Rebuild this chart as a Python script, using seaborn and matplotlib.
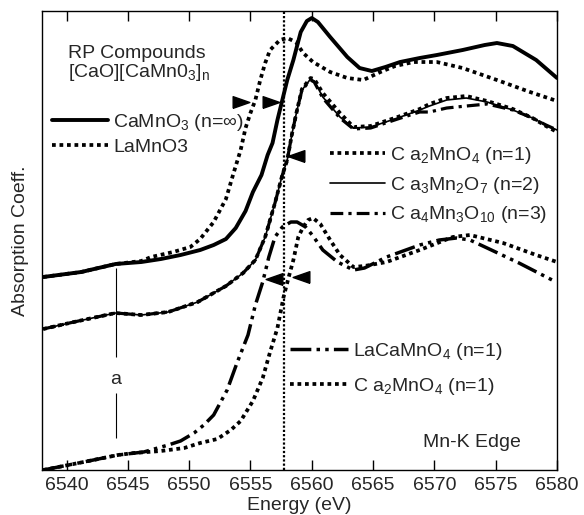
import matplotlib
matplotlib.use("Agg")
import matplotlib.pyplot as plt
import seaborn as sns
from matplotlib.lines import Line2D

# ---------------- data (energy in eV, absorption in arb. units, offset curves) -------------
e_camno3 = [6538.1, 6541.2, 6544.0, 6546.1, 6547.7, 6549.3, 6550.9, 6552.0, 6553.0, 6553.8,
            6554.6, 6555.2, 6555.9, 6556.4, 6556.8, 6557.2, 6557.6, 6558.0, 6558.5, 6559.1,
            6559.6, 6560.0, 6560.5, 6561.5, 6562.9, 6563.9, 6564.9, 6566.0, 6567.2, 6568.8,
            6570.2, 6572.3, 6574.1, 6575.1, 6576.4, 6578.3, 6580.0]
a_camno3 = [193, 198, 206, 208, 211, 215, 220, 225, 231, 242,
            259, 278, 295, 315, 327, 350, 370, 390, 410, 438,
            449, 452, 448, 433, 413, 402, 399, 403, 408, 412,
            415, 420, 425, 427, 424, 410, 392]

e_lamno3 = [6538.1, 6541.2, 6544.0, 6546.1, 6546.9, 6548.7, 6550.1, 6550.9, 6552.0, 6553.0,
            6553.6, 6554.2, 6554.6, 6555.0, 6555.4, 6555.8, 6556.2, 6556.6, 6557.4, 6558.0,
            6558.7, 6559.3, 6560.1, 6561.5, 6562.9, 6564.2, 6565.6, 6566.8, 6568.3, 6570.2,
            6572.3, 6575.1, 6577.8, 6580.0]
a_lamno3 = [193, 198, 206, 209, 213, 218, 223, 231, 248, 271,
            296, 320, 342, 357, 370, 390, 407, 420, 430, 432,
            428, 417, 408, 398, 392, 390, 398, 404, 408, 408,
            402, 390, 378, 369]

e_mid = [6538.1, 6540.6, 6544.0, 6546.1, 6548.3, 6550.7, 6553.0, 6554.4, 6555.4, 6556.2,
         6557.0, 6557.6, 6558.0, 6558.4, 6558.8, 6559.2, 6559.9, 6560.2, 6560.9, 6562.3,
         6563.4, 6564.8, 6567.0, 6568.8, 6569.6, 6571.0, 6572.6, 6574.3, 6576.4, 6578.0,
         6579.1, 6580.0]
a_ca3mn2o7 = [141, 148, 157, 155, 158, 168, 184, 197, 210, 233,
              267, 295, 310, 337, 360, 380, 391, 389, 373, 353,
              342, 343, 352, 360, 364, 370, 372, 368, 360, 352,
              345, 340]
a_ca2mno4_mid = [141, 148, 157, 155, 158, 168, 184, 197, 210, 233,
                 267, 295, 310, 337, 360, 381, 392, 391, 377, 357,
                 343, 344, 353, 361, 366, 372, 374, 369, 361, 352,
                 344, 338]
a_ca4mn3o10 = [141, 148, 157, 155, 158, 168, 184, 197, 210, 233,
               267, 295, 310, 337, 360, 380, 390, 388, 372, 352,
               341, 342, 351, 358, 358, 362, 364, 366, 360, 352,
               345, 340]

e_lacamno4 = [6538.1, 6541.4, 6544.2, 6546.3, 6548.3, 6549.3, 6550.4, 6551.2, 6552.0, 6553.1,
              6553.9, 6554.8, 6555.4, 6556.0, 6556.5, 6557.0, 6557.6, 6558.3, 6558.8, 6559.5,
              6560.1, 6560.9, 6562.1, 6563.4, 6564.3, 6566.1, 6568.8, 6570.4, 6571.8, 6572.9,
              6574.3, 6576.9, 6579.6]
a_lacamno4 = [0, 8, 15, 18, 25, 29, 37, 45, 55, 80,
              107, 135, 165, 188, 213, 233, 243, 248, 248, 243,
              234, 220, 208, 200, 202, 213, 225, 230, 232, 230,
              222, 207, 190]

e_ca2mno4_low = [6538.1, 6541.4, 6544.2, 6545.5, 6547.7, 6549.6, 6550.9, 6552.3, 6553.4, 6554.2,
                 6555.2, 6556.0, 6556.6, 6557.2, 6557.7, 6558.1, 6558.5, 6558.9, 6559.3, 6559.7,
                 6560.1, 6560.7, 6561.5, 6562.3, 6563.4, 6564.3, 6566.1, 6568.8, 6571.5, 6572.9,
                 6575.6, 6578.3, 6580.0]
a_ca2mno4_low = [0, 8, 15, 17, 19, 22, 27, 31, 40, 49,
                 69, 92, 118, 142, 173, 192, 210, 233, 243, 250,
                 252, 246, 230, 215, 203, 204, 208, 220, 233, 235,
                 227, 215, 208]

edge_energy = 6557.7          # vertical reference line
feature_a_energy = 6544.0     # pre-edge feature "a"
feature_a_spans = [(113, 202), (32, 77)]
arrows_right = [(6554.2, 368), (6556.7, 368)]
arrows_left = [(6558.7, 314), (6556.9, 191), (6559.1, 193)]

x_ticks = [6540, 6545, 6550, 6555, 6560, 6565, 6570, 6575, 6580]

# ---------------- style -------------
sns.set_theme(style="ticks")
plt.rcParams['font.family'] = ['Liberation Sans', 'DejaVu Sans']
plt.rcParams['mathtext.default'] = 'regular'
FS = 14

fig = plt.figure(figsize=(5.84, 5.15), dpi=100)
ax = fig.add_axes([0.0719, 0.0874, 0.8819, 0.8912])

DOT = (0, (1, 1))
DASHDOT = (0, (4, 1.6, 1, 1.6))
DASHDOTDOT = (0, (6, 1.5, 1, 1.5, 1, 1.5))

def draw(x, y, lw, ls):
    sns.lineplot(x=x, y=y, ax=ax, color='black', lw=lw, linestyle=ls,
                 estimator=None, sort=False, dash_capstyle='butt')

draw(e_camno3, a_camno3, 2.8, '-')
draw(e_lamno3, a_lamno3, 2.7, DOT)
draw(e_mid, a_ca3mn2o7, 1.2, '-')
draw(e_mid, a_ca2mno4_mid, 2.7, DOT)
draw(e_mid, a_ca4mn3o10, 2.3, DASHDOT)
draw(e_lacamno4, a_lacamno4, 2.5, DASHDOTDOT)
draw(e_ca2mno4_low, a_ca2mno4_low, 2.7, DOT)

ax.axvline(edge_energy, color='black', lw=1.6, linestyle=(0, (1, 0.9)))
for lo, hi in feature_a_spans:
    ax.vlines(feature_a_energy, lo, hi, color='black', lw=0.8)
ax.text(feature_a_energy, 90, 'a', ha='center', va='center', fontsize=FS)

tri_r = [(-1, -0.7), (1, 0), (-1, 0.7), (-1, -0.7)]
tri_l = [(1, -0.7), (-1, 0), (1, 0.7), (1, -0.7)]
ax.plot([p[0] for p in arrows_right], [p[1] for p in arrows_right], ls='none',
        marker=tri_r, markersize=12, color='black')
ax.plot([p[0] for p in arrows_left], [p[1] for p in arrows_left], ls='none',
        marker=tri_l, markersize=12, color='black')

ax.set_xlim(6538, 6580)
ax.set_ylim(0, 459)
ax.set_xticks(x_ticks)
ax.set_xticklabels([str(t) for t in x_ticks])
ax.set_yticks([])
ax.tick_params(axis='x', direction='in', length=7, width=1, top=True, bottom=True,
               labelsize=FS, pad=5, color='black')
for s in ax.spines.values():
    s.set_linewidth(1.0)
    s.set_color('black')
ax.set_xlabel('Energy (eV)', fontsize=FS, labelpad=2)
ax.set_ylabel('Absorption Coeff.', fontsize=FS, labelpad=9)

# text annotations
ax.text(0.0505, 0.8976, 'RP Compounds', transform=ax.transAxes, fontsize=FS, va='baseline')
ax.text(0.0505, 0.856, '[CaO][CaMn0$_3$]$_n$', transform=ax.transAxes, fontsize=FS, va='baseline')
ax.text(0.740, 0.050, 'Mn-K Edge', transform=ax.transAxes, fontsize=FS, va='baseline')

# legends
def H(lw, ls):
    return Line2D([], [], color='black', lw=lw, linestyle=ls, dash_capstyle='butt')

common = dict(frameon=False, loc='upper left', borderpad=0, borderaxespad=0,
              handletextpad=0.25, fontsize=FS)
leg1 = ax.legend([H(2.8, '-'), H(2.7, DOT)],
                 ['CaMnO$_3$ (n=∞)', 'LaMnO3'],
                 bbox_to_anchor=(0.019, 0.781), handlelength=2.9, labelspacing=0.3, **common)
ax.add_artist(leg1)
leg2 = ax.legend([H(2.7, DOT), H(1.2, '-'), H(2.3, DASHDOT)],
                 ['C a$_2$MnO$_4$ (n=1)', 'C a$_3$Mn$_2$O$_7$ (n=2)', 'C a$_4$Mn$_3$O$_{10}$ (n=3)'],
                 bbox_to_anchor=(0.559, 0.7085), handlelength=2.85, labelspacing=0.45, **common)
ax.add_artist(leg2)
leg3 = ax.legend([H(2.5, DASHDOTDOT), H(2.7, DOT)],
                 ['LaCaMnO$_4$ (n=1)', 'C a$_2$MnO$_4$ (n=1)'],
                 bbox_to_anchor=(0.4816, 0.281), handlelength=3.0, labelspacing=0.7, **common)

fig.savefig('out.png', dpi=100)
